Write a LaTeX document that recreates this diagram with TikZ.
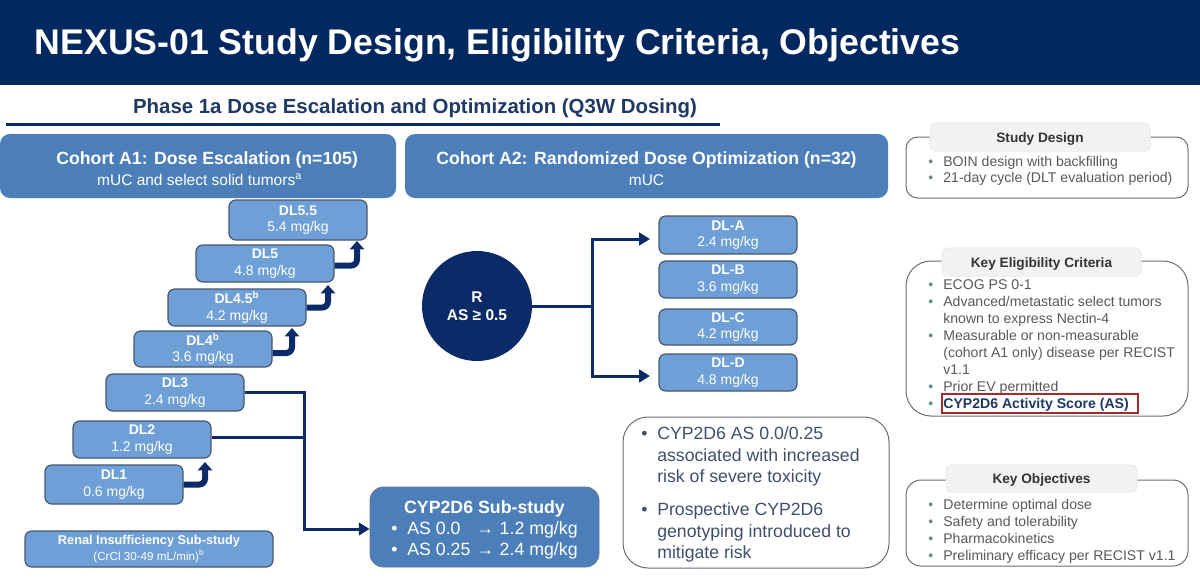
\documentclass[tikz,border=0pt]{standalone}
\usepackage{fontspec}
\setmainfont{Liberation Sans}
\usetikzlibrary{arrows.meta}
\definecolor{band}{HTML}{03285F}
\definecolor{navy}{HTML}{0A2A68}
\definecolor{cohort}{HTML}{4C7FBA}
\definecolor{dose}{HTML}{6E9FD6}
\definecolor{edgec}{HTML}{46586E}
\definecolor{bodyg}{HTML}{595959}
\definecolor{bulg}{HTML}{5F9080}
\definecolor{phase}{HTML}{1F3864}
\definecolor{notec}{HTML}{3F4F6B}
\definecolor{redb}{HTML}{A52A2A}
\newcommand{\fs}[2]{\fontsize{#1}{#2}\selectfont}
\newcommand{\pbox}[6]{\node[#1,minimum width={(#5-#3)*0.6pt},minimum height={(#6-#4)*0.6pt}] (#2) at ({(#3+#5)/2},{(#4+#6)/2})}
\newcommand{\bu}{\makebox[9pt][l]{\textcolor{bulg}{•}}}
\newcommand{\hg}{\hspace*{9pt}}
\newcommand{\nbw}{\makebox[9.6pt][l]{•}}
\newcommand{\nbn}{\makebox[9.6pt][l]{•}}
\newcommand{\pl}[1]{\raisebox{-3pt}[0pt][0pt]{#1}}
\tikzset{
 x=0.6pt,y=-0.6pt,
 dosebox/.style={draw=edgec,line width=0.7pt,fill=dose,rounded corners=4pt,inner sep=0pt,text=white,align=center,font=\fs{8.4}{10}},
 cohortbox/.style={fill=cohort,rounded corners=6pt,inner sep=0pt,text=white,align=center,font=\fs{9.3}{12.4}},
 frame/.style={draw=gray!85!black,line width=0.6pt,fill=white,inner sep=0pt},
 pill/.style={draw=black!8,line width=0.6pt,fill=black!5,rounded corners=3pt,inner sep=0pt,text=black!80,font=\bfseries\fs{8.2}{10}},
 list/.style={anchor=north west,inner sep=0pt,text=bodyg,align=left,font=\fs{8.45}{10.15}},
 notelist/.style={list,text=notec,font=\fs{10.6}{12.9}},
 thin link/.style={draw=navy,line width=1.8pt},
 thin arrow/.style={thin link,-{Triangle[length=6.5pt,width=7.5pt]}},
 step arrow/.style={draw=navy,line width=3.6pt,rounded corners=3.5pt,-{Triangle[length=5pt,width=8.5pt]}},
}
\begin{document}
\begin{tikzpicture}
\useasboundingbox (0,0) rectangle (1200,579);
\fill[white] (0,0) rectangle (1200,579);
\pbox{fill=band,inner sep=0pt}{bandn}{0}{0}{1200}{85}{};
\node[text=white,font=\bfseries\fs{21.4}{24},anchor=center,inner sep=0pt] (title) at (497.5,45) {NEXUS-01 Study Design, Eligibility Criteria, Objectives};
\node[text=phase,font=\bfseries\fs{12.25}{14},inner sep=0pt] (phase) at (415,108) {Phase 1a Dose Escalation and Optimization (Q3W Dosing)};
\coordinate (ruleL) at (6,124.5);
\coordinate (ruleR) at (720,124.5);
\draw[navy,line width=1.3pt] (ruleL) -- (ruleR);
% cohorts
\pbox{cohortbox}{a1}{0}{134}{396}{198}{\rule{0pt}{11pt}\hspace*{11pt}{\bfseries\fs{10.6}{13.5}Cohort A1: Dose Escalation (n=105)}\\\hspace*{2pt}mUC and select solid tumors\textsuperscript{a}};
\pbox{cohortbox}{a2}{405}{134}{888}{198}{\rule{0pt}{11pt}{\bfseries\fs{10.6}{13.5}Cohort A2: Randomized Dose Optimization (n=32)}\\mUC};
% dose levels
\pbox{dosebox}{d55}{229}{200}{367}{240}{\textbf{DL5.5}\\5.4 mg/kg};
\pbox{dosebox}{d5}{196}{245}{334}{282}{\textbf{DL5}\\4.8 mg/kg};
\pbox{dosebox}{d45}{168}{289}{306}{326}{\textbf{DL4.5\textsuperscript{b}}\\4.2 mg/kg};
\pbox{dosebox}{d4}{134}{331}{272}{367}{\textbf{DL4\textsuperscript{b}}\\3.6 mg/kg};
\pbox{dosebox}{d3}{106}{374}{244}{411}{\textbf{DL3}\\2.4 mg/kg};
\pbox{dosebox}{d2}{73}{421}{211}{458}{\textbf{DL2}\\1.2 mg/kg};
\pbox{dosebox}{d1}{45}{465}{183}{504}{\textbf{DL1}\\0.6 mg/kg};
\pbox{dosebox}{renal}{25}{531}{273}{567}{{\bfseries\fs{7.65}{9}Renal Insufficiency Sub-study}\\{\fs{7}{9}(CrCl 30-49 mL/min)\textsuperscript{b}}};
% step arrows
\coordinate (t1) at (205,462);
\coordinate (t4) at (292,328);
\coordinate (t45) at (328,285);
\coordinate (t5) at (357,241);
\draw[step arrow] (d1.east) -- (t1 |- d1.east) -- (t1);
\draw[step arrow] ([yshift=-2.4pt]d4.east) -- (t4 |- 272,353) -- (t4);
\draw[step arrow] (d45.east) -- (t45 |- d45.east) -- (t45);
\draw[step arrow] ([yshift=-1.2pt]d5.east) -- (t5 |- 334,265.5) -- (t5);
% sub-study
\pbox{draw=edgec!80,line width=0.5pt,fill=cohort,rounded corners=8pt,inner sep=0pt,text=white,align=center,font=\fs{10.65}{12.6}}{cyp}{370}{487}{599}{567}{\rule{0pt}{11pt}{\bfseries CYP2D6 Sub-study}\\\nbw\makebox[41.4pt][l]{AS 0.0}→\hspace{3.4pt}1.2 mg/kg\\\nbw\makebox[41.4pt][l]{AS 0.25}→\hspace{3.4pt}2.4 mg/kg};
\coordinate (jn) at (304,437.5);
\coordinate (corner) at (304,529);
\draw[thin link] (d2.east |- jn) -- (jn);
\draw[thin arrow] (d3.east) -- (d3.east -| jn) -- (corner) -- (cyp.west |- corner);
% randomisation
\node[circle,fill=navy,minimum size=66pt,inner sep=0pt,text=white,align=center,font=\bfseries\fs{9.3}{11}] (r) at (477,306) {R\\AS ≥ 0.5};
\coordinate (br) at (592,306);
\coordinate (bt) at (650,239);
\coordinate (bb) at (650,376);
\pbox{dosebox}{da}{659}{216}{797}{254}{\textbf{DL-A}\\2.4 mg/kg};
\pbox{dosebox}{db}{659}{261}{797}{298}{\textbf{DL-B}\\3.6 mg/kg};
\pbox{dosebox}{dc}{659}{309}{797}{345}{\textbf{DL-C}\\4.2 mg/kg};
\pbox{dosebox}{dd}{659}{354}{797}{391}{\textbf{DL-D}\\4.8 mg/kg};
\draw[thin link] (r.east) -- (br);
\draw[thin arrow] (br) -- (br |- bt) -- (bt);
\draw[thin arrow] (br) -- (br |- bb) -- (bb);
% note
\pbox{frame,rounded corners=15pt}{note}{623}{417}{889}{568}{};
\node[notelist] (n1) at (641,426.5) {\nbn CYP2D6 AS 0.0/0.25\\\hspace*{9.6pt}associated with increased\\\hspace*{9.6pt}risk of severe toxicity};
\node[notelist] (n2) at (641,502.5) {\nbn Prospective CYP2D6\\\hspace*{9.6pt}genotyping introduced to\\\hspace*{9.6pt}mitigate risk};
% right panels
\pbox{frame,rounded corners=7pt}{sd}{906}{137}{1188}{198}{};
\pbox{pill}{sdh}{930}{123}{1150}{151}{\pl{Study Design}};
\node[list] (sdl) at (928,155.5) {\bu BOIN design with backfilling\\\bu 21-day cycle (DLT evaluation period)};
\pbox{frame,rounded corners=15pt}{ke}{906}{261}{1188}{416}{};
\pbox{pill}{keh}{942}{248}{1141}{276}{\pl{Key Eligibility Criteria}};
\node[list] (kel) at (928,279.5) {\bu ECOG PS 0-1\\\bu Advanced/metastatic select tumors\\\hg known to express Nectin-4\\\bu Measurable or non-measurable\\\hg (cohort A1 only) disease per RECIST\\\hg v1.1\\\bu Prior EV permitted\\\bu \textcolor{phase}{\bfseries CYP2D6 Activity Score (AS)}};
\pbox{draw=redb,line width=0.9pt,inner sep=0pt}{red}{942}{394}{1138}{413}{};
\pbox{frame,rounded corners=9pt}{ko}{906}{480}{1188}{566}{};
\pbox{pill}{koh}{946}{465}{1137}{492}{\pl{Key Objectives}};
\node[list] (kol) at (928,499) {\bu Determine optimal dose\\\bu Safety and tolerability\\\bu Pharmacokinetics\\\bu Preliminary efficacy per RECIST v1.1};
\end{tikzpicture}
\end{document}
